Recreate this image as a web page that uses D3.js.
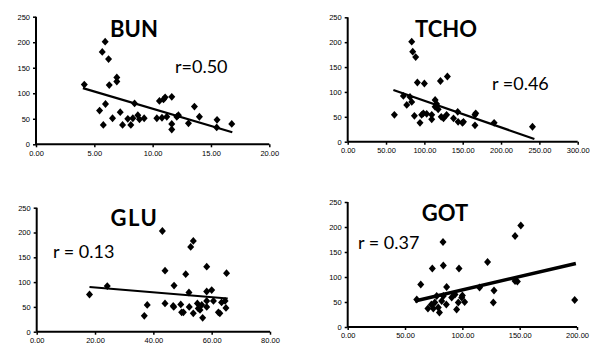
<!DOCTYPE html>
<html><head><meta charset="utf-8">
<script src="https://cdn.jsdelivr.net/npm/d3@7"></script>
<style>
html,body{margin:0;padding:0;background:#fff;}
svg{display:block;}
.tick text{font-family:"Liberation Sans",Arial,sans-serif;font-size:7.5px;fill:#000;}
</style></head>
<body>
<svg id="chart" width="590" height="352"></svg>
<script>
// ---- data ----
const yTicks = [0, 50, 100, 150, 200, 250];

const bunXTicks = [0, 5, 10, 15, 20];
const bunPoints = [[4.14,117],[5.68,181],[5.93,201],[6.22,167],[6.28,116],[6.93,131],[6.93,123],
  [5.45,66],[5.96,79],[5.77,38],[6.56,51],[7.22,63],[7.42,38],[7.87,50],[8.13,38],[8.30,51],
  [8.45,80],[8.73,57],[8.87,49],[9.27,51],[10.36,51],[10.58,85],[10.93,88],[11.07,92],[11.21,54],
  [11.64,93],[11.64,40],[11.64,29],[12.21,57],[13.07,41],[13.58,74],[14.01,54],[15.52,48],
  [15.49,33],[16.78,40],[12.07,54],[10.8,52]];
const bunTrend = [[4.02,110],[16.83,23.5]];

const tchoXTicks = [0, 50, 100, 150, 200, 250, 300];
const tchoPoints = [[60.9,54],[83.5,201],[84.8,181],[88.7,170],[90.9,119],[100,117],[121,122],
  [130,131],[72.6,92],[77,74],[81.3,90],[83.5,80],[87,52],[94.3,38],[98.7,57],[103,56],[109.6,45],
  [109.6,54],[114,84],[116,76],[118,65],[122,50],[125,47],[129,54],[138,47],[143.5,60],[144,40],
  [149.6,38],[151,40],[166,54],[166,33],[167,57],[191,38],[241,30],[114,70],[96.5,54]];
const tchoTrend = [[59.6,104],[243.5,5.4]];

const gluXTicks = [0, 20, 40, 60, 80];
const gluPoints = [[18.1,75],[24.2,92],[36.9,32],[37.9,54],[43.1,203],[53.7,183],[52.8,171],
  [44,123],[51.1,116],[58.3,131],[65.1,118],[47.1,93],[52.2,79],[58.3,81],[60,84],[44,57],
  [46.8,52],[47,50],[49.4,55],[49.7,39],[50.3,39],[52.3,50],[53.7,37],[55.1,57],[55.4,47],
  [56,44],[56.6,54],[56.9,28],[58.3,50],[58.3,62],[62.3,39],[62.8,37],[63.4,59],[64.6,62],
  [64.9,48],[60.6,62]];
const gluTrend = [[18.1,90],[65.5,67]];

const gotXTicks = [0, 50, 100, 150, 200];
const gotPoints = [[60.2,55],[63.7,85],[73.8,117],[83.1,170],[83.4,123],[86.3,80],[97.1,117],
  [122,130],[146,182],[151,203],[198,54],[115,79],[127.6,73],[127,49],[146,92],[148,91],
  [70,37],[73,45],[76,49],[79,39],[80,29],[82,52],[86,45],[90.7,59],[95,35],[96.5,49],[99.4,59],
  [102,50],[100,63],[77.6,62],[83.4,62],[93.6,65],[74.7,37]];
const gotTrend = [[58.7,52],[199,127]];

const titles = ["BUN", "TCHO", "GLU", "GOT"];
const rLabels = ["r=0.50", "r =0.46", "r = 0.13", "r = 0.37"];

// ---- layout ----
const panels = [
  {title: titles[0], r: rLabels[0], pts: bunPoints, trend: bunTrend, xt: bunXTicks,
   xr: [36, 269.3], yr: [144.3, 16.7], tx: 134, ty: 37, rx: 175, ry: 73, lw: 2.2, ls: 0},
  {title: titles[1], r: rLabels[1], pts: tchoPoints, trend: tchoTrend, xt: tchoXTicks,
   xr: [347.7, 577.7], yr: [141.7, 17.3], tx: 446, ty: 37, rx: 492, ry: 90, lw: 2.2, ls: 0},
  {title: titles[2], r: rLabels[2], pts: gluPoints, trend: gluTrend, xt: gluXTicks,
   xr: [36.7, 270], yr: [331.7, 207.7], tx: 134.5, ty: 226, rx: 53, ry: 258, lw: 2, ls: 1.5},
  {title: titles[3], r: rLabels[3], pts: gotPoints, trend: gotTrend, xt: gotXTicks,
   xr: [347.7, 577], yr: [327, 202], tx: 445, ty: 221, rx: 358, ry: 249, lw: 3.4, ls: 0}
];

const svg = d3.select("#chart");

panels.forEach(p => {
  const g = svg.append("g");
  const x = d3.scaleLinear().domain([p.xt[0], p.xt[p.xt.length-1]]).range(p.xr);
  const y = d3.scaleLinear().domain([0, 250]).range(p.yr);

  const yAxis = d3.axisLeft(y).tickValues(yTicks).tickSize(3).tickPadding(3).tickFormat(d3.format("d"));
  const xAxis = d3.axisBottom(x).tickValues(p.xt).tickSize(3).tickPadding(3).tickFormat(d3.format(".2f"));

  const ya = g.append("g").attr("transform", `translate(${p.xr[0]},0)`).call(yAxis);
  const xa = g.append("g").attr("transform", `translate(0,${p.yr[0]})`).call(xAxis);
  [ya, xa].forEach(a => {
    a.select(".domain").attr("stroke", "#000").attr("stroke-width", 2);
    a.selectAll(".tick line").attr("stroke", "#000").attr("stroke-width", 1.5);
  });
  ya.select(".domain").attr("d", `M0,${p.yr[1]}V${p.yr[0]}`);
  xa.select(".domain").attr("d", `M${p.xr[0]},0H${p.xr[1]}`);

  // points (diamonds)
  g.append("g").selectAll("path").data(p.pts).join("path")
    .attr("d", d => {
      const cx = x(d[0]), cy = y(d[1]), w = 3.5, h = 3.9;
      return `M${cx},${cy-h}L${cx+w},${cy}L${cx},${cy+h}L${cx-w},${cy}Z`;
    })
    .attr("fill", "#000");

  // trend line
  g.append("line")
    .attr("x1", x(p.trend[0][0])).attr("y1", y(p.trend[0][1]))
    .attr("x2", x(p.trend[1][0])).attr("y2", y(p.trend[1][1]))
    .attr("stroke", "#000").attr("stroke-width", p.lw);

  // title
  g.append("text").attr("x", p.tx).attr("y", p.ty).attr("text-anchor", "middle")
    .attr("font-family", "Lato, 'Open Sans', sans-serif").attr("font-weight", "bold")
    .attr("font-size", 22).attr("letter-spacing", p.ls).text(p.title);

  // r label
  g.append("text").attr("x", p.rx).attr("y", p.ry)
    .attr("font-family", "Lato, 'Open Sans', sans-serif")
    .attr("font-size", 18).text(p.r);
});
</script>
</body></html>
